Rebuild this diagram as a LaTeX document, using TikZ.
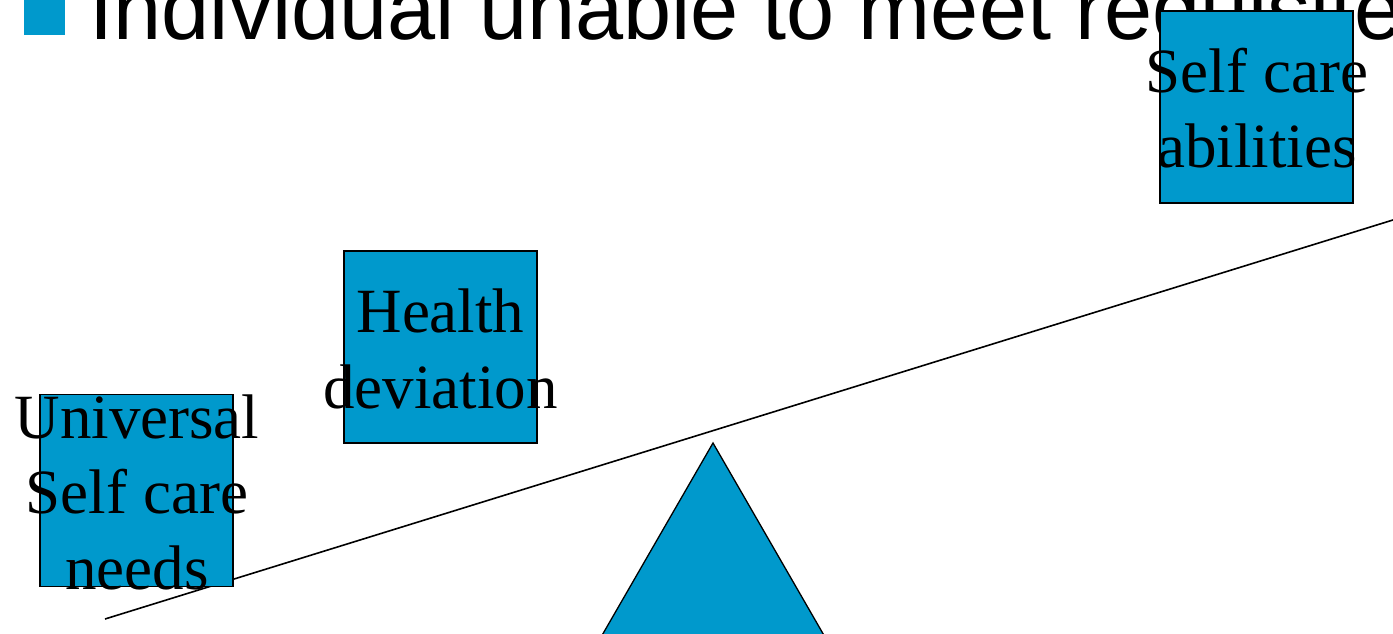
\documentclass[tikz,border=0pt]{standalone}
\usepackage{fontspec}
\setmainfont{Liberation Serif}
\newfontfamily\arialfont{Liberation Sans}
\definecolor{boxblue}{HTML}{0099CC}
\tikzset{
  bluebox/.style={draw=black, line width=1.8pt, fill=boxblue, minimum width=193pt, minimum height=192pt, inner sep=0pt},
  boxlabel/.style={align=center, inner sep=0pt, font=\fontsize{63}{75.5}\selectfont},
  heading/.style={anchor=base west, inner sep=0pt, font=\arialfont\fontsize{86.5}{90}\selectfont},
  bulletsq/.style={fill=boxblue, minimum size=41pt, inner sep=0pt},
  beam/.style={draw=black, line width=1.6pt},
  fulcrum/.style={draw=black, line width=1.3pt, fill=boxblue},
}
\begin{document}
\begin{tikzpicture}[x=1pt,y=-1pt]
\clip (0,0) rectangle (1393,634);
% heading
\node[bulletsq] (bul) at (44.5,14.5) {};
\node[heading] (head) at (89.5,40) {Individual unable to meet requisites};
% beam and fulcrum
\coordinate (beamL) at (105,619);
\coordinate (beamR) at (1400,217.8);
\draw[beam] (beamL) -- (beamR);
\coordinate (apex) at (713,443);
\coordinate (baseL) at (564.7,700);
\coordinate (baseR) at (861.3,700);
\filldraw[fulcrum] (apex) -- (baseR) -- (baseL) -- cycle;
% boxes
\node[bluebox] (univ) at (136.5,490.5) {};
\node[bluebox] (health) at (440.5,347) {};
\node[bluebox] (abil) at (1256.5,107) {};
% labels
\node[boxlabel] (univT) at (137,492) {Universal\\Self care\\needs};
\node[boxlabel] (healthT) at (440.5,349) {Health\\deviation};
\node[boxlabel] (abilT) at (1257,108.2) {Self care\\abilities};
\end{tikzpicture}
\end{document}
